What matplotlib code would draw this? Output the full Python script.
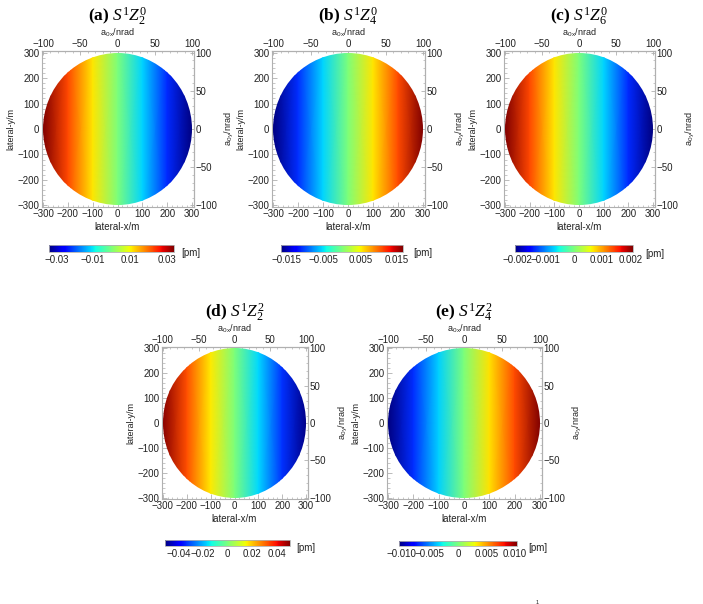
import matplotlib
matplotlib.use("Agg")
import matplotlib.pyplot as plt
import numpy as np
from matplotlib.patches import Circle
from matplotlib.ticker import MultipleLocator

plt.rcParams['font.family'] = ['Liberation Sans', 'DejaVu Sans']
plt.rcParams['mathtext.fontset'] = 'custom'
plt.rcParams['mathtext.rm'] = 'Liberation Serif'
plt.rcParams['mathtext.it'] = 'Liberation Serif:italic'
plt.rcParams['mathtext.bf'] = 'Liberation Serif:bold'
plt.rcParams['mathtext.sf'] = 'Liberation Sans'

W, H = 703, 604

panel_tags = ['(a)', '(b)', '(c)', '(d)', '(e)']
panel_terms = [r'S^{1}Z_{2}^{0}', r'S^{1}Z_{4}^{0}', r'S^{1}Z_{6}^{0}',
               r'S^{1}Z_{2}^{2}', r'S^{1}Z_{4}^{2}']
x_samples = [-300, -200, -100, 0, 100, 200, 300]
vals_a = [0.034, 0.0227, 0.0113, 0.0, -0.0113, -0.0227, -0.034]
vals_b = [-0.0165, -0.011, -0.0055, 0.0, 0.0055, 0.011, 0.0165]
vals_c = [0.0021, 0.0014, 0.0007, 0.0, -0.0007, -0.0014, -0.0021]
vals_d = [0.05, 0.0333, 0.0167, 0.0, -0.0167, -0.0333, -0.05]
vals_e = [-0.0104, -0.0069, -0.0035, 0.0, 0.0035, 0.0069, 0.0104]
panel_vals = [vals_a, vals_b, vals_c, vals_d, vals_e]

# colorbar ranges and ticks
cbar_lims = [0.034, 0.0166, 0.0021, 0.051, 0.0104]
cbar_ticks = [[-0.03, -0.01, 0.01, 0.03],
              [-0.015, -0.005, 0.005, 0.015],
              [-0.002, -0.001, 0, 0.001, 0.002],
              [-0.04, -0.02, 0, 0.02, 0.04],
              [-0.010, -0.005, 0, 0.005, 0.010]]
cbar_ticklabels = [['\u22120.03', '\u22120.01', '0.01', '0.03'],
                   ['\u22120.015', '\u22120.005', '0.005', '0.015'],
                   ['\u22120.002', '\u22120.001', '0', '0.001', '0.002'],
                   ['\u22120.04', '\u22120.02', '0', '0.02', '0.04'],
                   ['\u22120.010', '\u22120.005', '0', '0.005', '0.010']]

# layout in pixels: (left, top, right, bottom)
ax_boxes = [(41.5, 51, 193.5, 207), (271.5, 51, 424.5, 207), (503.5, 51, 654.5, 207),
            (161.5, 347, 307.5, 499), (386.5, 347, 541.5, 499)]
cb_boxes = [(49, 245, 174, 252), (281, 245, 403, 252), (515, 245, 633, 252),
            (165, 540, 290, 546), (399, 541, 517, 546)]
pm_pos = [(191, 253), (423, 253), (655, 254), (306, 548), (538, 548)]

GRAY = '#b0b0b0'
TXT = '#222222'
LIM = 306


def fbox(l, t, r, b):
    return [l / W, 1 - b / H, (r - l) / W, (b - t) / H]


def ftxt(x, y, s, **kw):
    fig.text(x / W, 1 - y / H, s, **kw)


fig = plt.figure(figsize=(W / 100, H / 100), dpi=100)

for i in range(5):
    l, t, r, b = ax_boxes[i]
    ax = fig.add_axes(fbox(l, t, r, b))
    ax.set_axisbelow(True)
    X, Y = np.meshgrid(x_samples, [-300, 300])
    C = np.vstack([panel_vals[i], panel_vals[i]])
    mesh = ax.pcolormesh(X, Y, C, shading='gouraud', cmap='jet',
                         vmin=-cbar_lims[i], vmax=cbar_lims[i], zorder=3)
    circ = Circle((0, 0), 300, transform=ax.transData)
    mesh.set_clip_path(circ)
    ax.set_xlim(-LIM, LIM)
    ax.set_ylim(-LIM, LIM)
    ax.set_aspect('auto')
    for sp in ax.spines.values():
        sp.set_color(GRAY)
        sp.set_linewidth(0.8)
    ax.xaxis.set_major_locator(MultipleLocator(100))
    ax.xaxis.set_minor_locator(MultipleLocator(20))
    ax.yaxis.set_major_locator(MultipleLocator(100))
    ax.yaxis.set_minor_locator(MultipleLocator(20))
    ax.tick_params(which='both', direction='in', color=GRAY, labelcolor=TXT,
                   labelsize=7, pad=1.5, top=False, right=False)
    ax.tick_params(which='major', length=3.5, width=0.6)
    ax.tick_params(which='minor', length=1.8, width=0.5)

    secx = ax.secondary_xaxis('top', functions=(lambda v: v / 3, lambda v: v * 3))
    secy = ax.secondary_yaxis('right', functions=(lambda v: v / 3, lambda v: v * 3))
    for sec in (secx, secy):
        sec.set_ticks([-100, -50, 0, 50, 100])
        sec.tick_params(which='both', direction='in', color=GRAY, labelcolor=TXT,
                        labelsize=7, pad=1.5)
        sec.tick_params(which='major', length=3, width=0.6)
        sec.tick_params(which='minor', length=1.5, width=0.5)
        for sp in sec.spines.values():
            sp.set_color(GRAY)
            sp.set_linewidth(0.8)
    secx.xaxis.set_minor_locator(MultipleLocator(10))
    secy.yaxis.set_minor_locator(MultipleLocator(10))

    cx = (l + r) / 2
    cy = (t + b) / 2
    ftxt(cx, t - 34, r'$\mathbf{' + panel_tags[i] + r'}\ ' + panel_terms[i] + '$',
         fontsize=12.5, ha='center', va='center', color='black')
    ftxt(cx, t - 18, r'$\mathsf{a}_{\mathsf{0\,x}}$/nrad', fontsize=6.5,
         ha='center', va='center', color=TXT)
    ftxt(cx, b + 20.5, 'lateral-x/m', fontsize=7, ha='center', va='center', color=TXT)
    ftxt(l - 31, cy, 'lateral-y/m', fontsize=6.5, rotation=90,
         ha='center', va='center', color=TXT)
    ftxt(r + 35, cy, r'$\mathsf{a}_{\mathsf{0\,y}}$/nrad', fontsize=6.5, rotation=90,
         ha='center', va='center', color=TXT)

    # colorbar
    cax = fig.add_axes(fbox(*cb_boxes[i]))
    cb = fig.colorbar(mesh, cax=cax, orientation='horizontal')
    cb.set_ticks(cbar_ticks[i])
    cb.set_ticklabels(cbar_ticklabels[i])
    cb.outline.set_edgecolor(GRAY)
    cb.outline.set_linewidth(0.6)
    cax.tick_params(length=0, labelsize=7, labelcolor=TXT, pad=2.5)
    ftxt(pm_pos[i][0], pm_pos[i][1], '[pm]', fontsize=7, ha='center',
         va='center', color=TXT)

ftxt(537, 602, '1', fontsize=4, ha='center', va='center', color=TXT)

fig.savefig('out.png', dpi=100)
